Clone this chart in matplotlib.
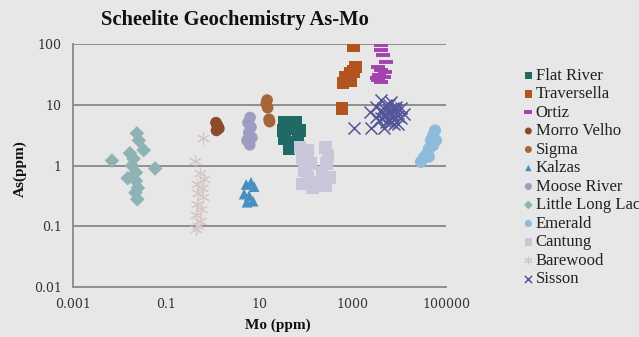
import numpy as np
import matplotlib
matplotlib.use("Agg")
import matplotlib.pyplot as plt

# --- data (Mo ppm, As ppm) ---
flat_mo = [35, 61, 45, 67, 34, 50, 43, 74, 32]
flat_as = [5.1, 5.1, 4.1, 3.1, 2.8, 2.4, 1.9, 3.8, 3.8]

trav_mo = [1020, 1127, 880, 1050, 690, 620, 900, 590]
trav_as = [96, 42, 33, 35, 28, 23, 25, 8.8]

ortiz_mo = [4000, 4000, 4400, 5090, 3440, 4000, 3610, 4620, 3440, 4000, 4850, 3280]
ortiz_as = [96, 80, 66, 50, 42, 37, 31, 28.5, 25.4, 23.6, 34.5, 27.5]

morro_mo = [1.17, 1.29, 1.2, 1.35, 1.25]
morro_as = [5.1, 4.4, 3.8, 4.1, 4.6]

sigma_mo = [14.6, 14.0, 15.0, 16.1, 16.5]
sigma_as = [12, 10.5, 9, 5.8, 5.3]

kalzas_mo = [5.2, 6.6, 7.7, 4.7, 6.0, 7.3, 5.4]
kalzas_as = [0.49, 0.53, 0.45, 0.34, 0.32, 0.26, 0.25]

moose_mo = [6.3, 5.7, 6.6, 5.9, 6.9, 5.4, 6.2]
moose_as = [6.2, 5.1, 4.3, 3.5, 2.9, 2.6, 2.2]

llac_mo = [0.0069, 0.0236, 0.026, 0.033, 0.0167, 0.020, 0.058, 0.0185, 0.0225, 0.015, 0.0225, 0.0248, 0.024, 0.022]
llac_as = [1.21, 3.4, 2.6, 1.8, 1.6, 1.3, 0.9, 1.0, 0.77, 0.62, 0.56, 0.43, 0.28, 0.36]

emer_mo = [58000, 52500, 47500, 52500, 43000, 38900, 33600, 29000, 43000, 61000]
emer_as = [3.8, 3.1, 2.6, 2.14, 1.9, 1.57, 1.36, 1.15, 1.41, 2.6]

cant_mo = [74, 110, 82, 122, 91, 110, 82, 135, 256, 296, 269, 220, 327, 181, 256]
cant_as = [2.0, 1.75, 1.36, 1.07, 0.83, 0.63, 0.50, 0.43, 2.0, 1.47, 1.07, 0.77, 0.63, 0.52, 0.47]

bare_mo = [0.62, 0.415, 0.53, 0.65, 0.46, 0.59, 0.48, 0.62, 0.46, 0.56, 0.435, 0.53, 0.48, 0.44]
bare_as = [2.8, 1.2, 0.77, 0.61, 0.50, 0.43, 0.36, 0.30, 0.235, 0.195, 0.155, 0.123, 0.10, 0.09]

sisson_mo = [1050, 2320, 2440, 4640, 3620, 3120, 4000, 5130, 6560, 8410, 10760, 12500, 5660, 7240,
             9290, 4400, 3120, 4000, 5130, 6560, 8410, 10760, 5660, 7240, 9290, 4400, 6000, 7000,
             8000, 5000, 6500, 7500]
sisson_as = [4.2, 7.5, 4.2, 4.1, 5.5, 9.4, 11.9, 10, 11, 9.4, 8.8, 7.2, 8.1, 9.0,
             6.45, 7.5, 6.4, 6.0, 5.2, 7.5, 8.2, 6.0, 5.5, 6.4, 4.76, 8.8, 10, 7,
             8.5, 6.5, 5.3, 4.8]

x_ticks = [0.001, 0.1, 10, 1000, 100000]
x_tick_labels = ['0.001', '0.1', '10', '1000', '100000']
y_ticks = [0.01, 0.1, 1, 10, 100]
y_tick_labels = ['0.01', '0.1', '1', '10', '100']

bg = '#e7e7e7'
fig = plt.figure(figsize=(6.39, 3.37), dpi=100, facecolor=bg)
ax = fig.add_axes([0.114, 0.148, 0.584, 0.721], facecolor=bg)

# series: (label, mo, as, marker, color, size, extra kwargs)
series = [
    ('Flat River', flat_mo, flat_as, 's', '#1f6a64', 85, {}),
    ('Traversella', trav_mo, trav_as, 's', '#b3541e', 85, {}),
    ('Ortiz', ortiz_mo, ortiz_as, '_', '#a443b0', 90, {'linewidths': 2.8}),
    ('Morro Velho', morro_mo, morro_as, 'o', '#8a4a2b', 70, {}),
    ('Sigma', sigma_mo, sigma_as, 'o', '#a5643a', 70, {}),
    ('Kalzas', kalzas_mo, kalzas_as, '^', '#4a8ec0', 60, {}),
    ('Moose River', moose_mo, moose_as, 'o', '#9d9dc3', 70, {}),
    ('Little Long Lac', llac_mo, llac_as, 'D', '#8fb2b4', 55, {}),
    ('Emerald', emer_mo, emer_as, 'o', '#8dbbdb', 75, {}),
    ('Cantung', cant_mo, cant_as, 's', '#c7c7d9', 85, {}),
    ('Barewood', bare_mo, bare_as, (6, 2, 0), '#d6c6c6', 80, {'linewidths': 0.8}),
    ('Sisson', sisson_mo, sisson_as, 'x', '#55559a', 75, {'linewidths': 1.1}),
]

for label, xs, ys, mk, col, sz, kw in series:
    if mk in ('_', 'x') or isinstance(mk, tuple):
        ax.scatter(xs, ys, marker=mk, s=sz, c=col, label=label, zorder=3, **kw)
    else:
        ax.scatter(xs, ys, marker=mk, s=sz, c=col, edgecolors='none', label=label, zorder=3)

ax.set_xscale('log')
ax.set_yscale('log')
ax.set_xlim(0.001, 100000)
ax.set_ylim(0.01, 100)
ax.set_xticks(x_ticks)
ax.set_xticklabels(x_tick_labels)
ax.set_yticks(y_ticks)
ax.set_yticklabels(y_tick_labels)
ax.minorticks_off()
ax.tick_params(length=0, labelsize=9, colors='#333333', pad=8)
for t in ax.get_xticklabels() + ax.get_yticklabels():
    t.set_family('DejaVu Serif')

ax.grid(axis='y', color='#8f8f8f', linewidth=1.4, zorder=0)
for s in ['top', 'right', 'bottom']:
    ax.spines[s].set_visible(False)
ax.spines['left'].set_color('#8f8f8f')
ax.spines['left'].set_linewidth(1.4)
ax.axhline(0.01, color='#8f8f8f', linewidth=1.4, clip_on=False)

fig.text(0.368, 0.94, 'Scheelite Geochemistry As-Mo', ha='center', va='center',
         fontsize=14.8, fontweight='bold', family='Liberation Serif', color='#111111')
fig.text(0.435, 0.035, 'Mo (ppm)', ha='center', va='center', fontsize=11,
         fontweight='bold', family='Liberation Serif', color='#111111')
fig.text(0.032, 0.50, 'As(ppm)', ha='center', va='center', rotation=90, fontsize=11,
         fontweight='bold', family='Liberation Serif', color='#111111')

leg = fig.legend(loc='center left', bbox_to_anchor=(0.806, 0.473), frameon=False,
                 prop={'family': 'Liberation Serif', 'size': 12}, markerscale=0.6,
                 handlelength=0.6, handletextpad=0.15, labelspacing=0.15, borderpad=0)
for t in leg.get_texts():
    t.set_color('#222222')

fig.savefig('out.png', dpi=100, facecolor=bg)
